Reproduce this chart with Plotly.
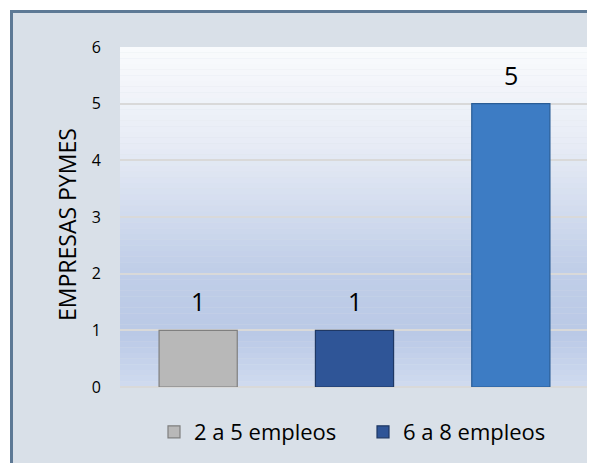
import plotly.graph_objects as go

# ---- data ----
categories = ["Grupo A", "Grupo B", "Grupo C"]
series_names = ["2 a 5 empleos", "6 a 8 empleos"]
series1_x = ["Grupo A"]
series1_y = [1]
series2_x = ["Grupo B", "Grupo C"]
series2_y = [1, 5]
y_ticks = [0, 1, 2, 3, 4, 5, 6]
y_title = "EMPRESAS PYMES"

FONT = "Open Sans"
OFF = 8  # page body margin
W, H = 595, 463
# target page pixel positions of the plot area
P_L, P_R, P_T, P_B = 120, 589, 47, 387
ML = P_L - OFF
MT = P_T - OFF
MR = W - (P_R - OFF)
MB = H - (P_B - OFF)
PW, PH = W - ML - MR, H - MT - MB


def px_x(x):
    return (x - P_L) / PW


def px_y(y):
    return (P_B - y) / PH


fig = go.Figure()
fig.add_trace(go.Bar(
    x=series1_x, y=series1_y, name=series_names[0], width=0.5,
    marker=dict(color="#b8b8b8", line=dict(color="#7f7f7f", width=1.2)),
))
fig.add_trace(go.Bar(
    x=series2_x, y=series2_y, name=series_names[1], width=0.5,
    marker=dict(color=["#2f5597", "#3d7cc4"],
                line=dict(color=["#1f3864", "#2a5d96"], width=1.2)),
))

# value labels
annotations = []
for xs, ys in ((series1_x, series1_y), (series2_x, series2_y)):
    for xv, yv in zip(xs, ys):
        annotations.append(dict(
            x=xv, y=yv, text=str(yv), showarrow=False, xref="x", yref="y",
            yanchor="bottom", yshift=10, font=dict(size=25, color="#000000", family=FONT)))

# y-axis title
annotations.append(dict(x=px_x(67), y=px_y(225), xref="paper", yref="paper", text=y_title,
                        textangle=-90, showarrow=False, xanchor="center", yanchor="middle",
                        font=dict(size=23, family=FONT, color="#000000")))

shapes = []
# outer frame
shapes.append(dict(type="rect", xref="paper", yref="paper", layer="below",
                   x0=px_x(11.5), x1=px_x(605), y0=px_y(475), y1=px_y(11.5),
                   fillcolor="#d9e0e8", line=dict(color="#5d7995", width=3)))


# gradient plot background
def interp(stops, t):
    for (t0, c0), (t1, c1) in zip(stops[:-1], stops[1:]):
        if t0 <= t <= t1:
            f = (t - t0) / (t1 - t0) if t1 > t0 else 0
            return tuple(round(a + (b - a) * f) for a, b in zip(c0, c1))
    return stops[-1][1]


grad_stops = [(0.0, (250, 251, 253)), (0.3, (230, 235, 245)), (0.65, (192, 206, 232)),
              (0.85, (186, 201, 230)), (1.0, (208, 219, 240))]
N = 60
for i in range(N):
    t = (i + 0.5) / N
    c = interp(grad_stops, t)
    shapes.append(dict(type="rect", xref="paper", yref="paper", layer="below",
                       x0=0, x1=1, y0=1 - (i + 1) / N, y1=1 - i / N,
                       fillcolor="rgb(%d,%d,%d)" % c, line=dict(width=0)))

fig.update_layout(
    width=W, height=H,
    margin=dict(l=ML, r=MR, t=MT, b=MB),
    paper_bgcolor="white",
    plot_bgcolor="rgba(0,0,0,0)",
    barmode="overlay",
    font=dict(family=FONT, color="#000000"),
    showlegend=True,
    legend=dict(orientation="h", x=px_x(154), xanchor="left", y=px_y(432), yanchor="middle",
                entrywidth=164, entrywidthmode="pixels",
                font=dict(size=22, family=FONT, color="#000000"), bgcolor="rgba(0,0,0,0)"),
    shapes=shapes,
    annotations=annotations,
    xaxis=dict(categoryorder="array", categoryarray=categories, showticklabels=False,
               showgrid=False, zeroline=False, showline=False, ticks=""),
    yaxis=dict(range=[0, 6], tickvals=y_ticks, showgrid=True, gridcolor="#d9d9d9", gridwidth=2,
               zeroline=True, zerolinecolor="#d9d9d9", zerolinewidth=2, showline=False,
               tickfont=dict(size=16, family=FONT, color="#000000"), ticklabelstandoff=18),
)

fig.write_html("out.html")
